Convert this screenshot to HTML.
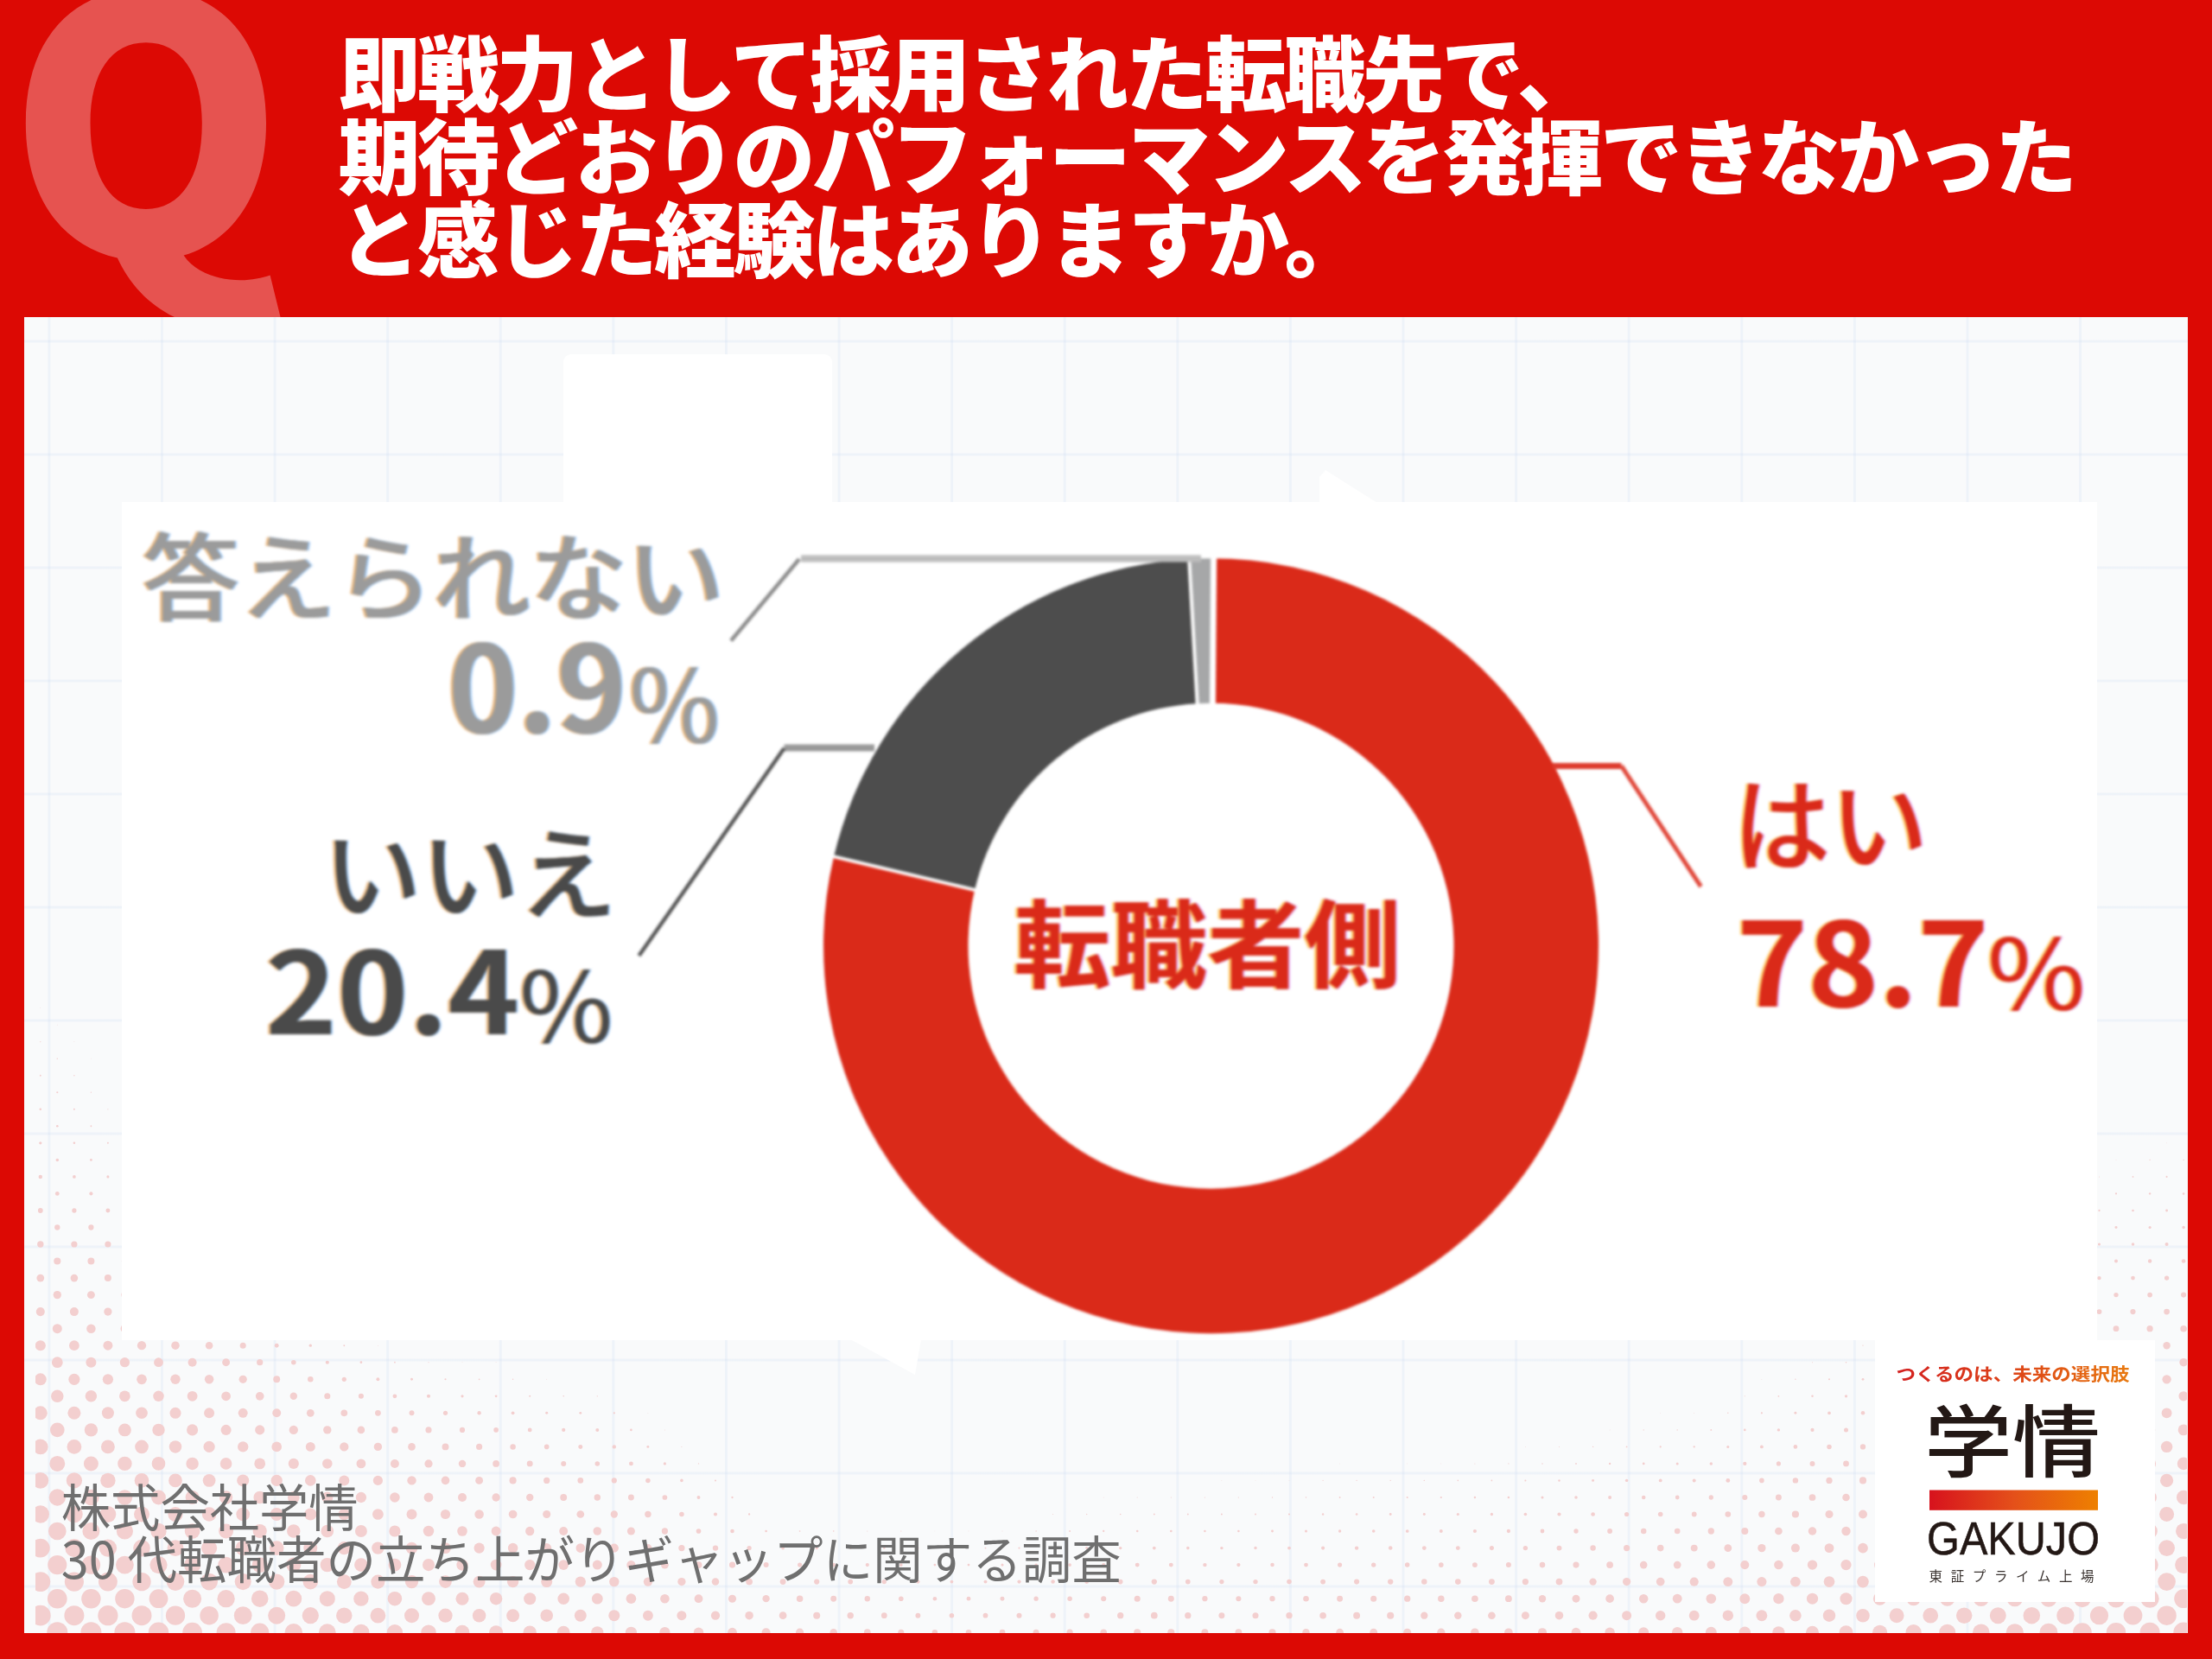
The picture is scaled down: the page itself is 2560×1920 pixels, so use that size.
<!DOCTYPE html>
<html lang="ja">
<head>
<meta charset="utf-8">
<style>
html,body{margin:0;padding:0;}
body{width:2560px;height:1920px;overflow:hidden;position:relative;background:#dc0904;font-family:"Liberation Sans","Noto Sans CJK JP",sans-serif;}
.abs{position:absolute;}
#q{left:0;top:0;width:2560px;height:367px;overflow:hidden;}
#q span{position:absolute;left:8.6px;top:-85.5px;font-family:"Noto Sans CJK JP",sans-serif;font-weight:900;font-size:408px;line-height:1;color:#e65350;}
#title{left:391.5px;top:33px;color:#fff;font-family:"Noto Sans CJK JP",sans-serif;font-weight:900;font-size:95px;line-height:96px;letter-spacing:-3.6px;white-space:nowrap;}
#panel{left:28px;top:367px;width:2504px;height:1523px;background-color:#f9fafb;
  background-image:linear-gradient(90deg,rgba(205,220,242,.24) 3px,transparent 3px),linear-gradient(180deg,rgba(205,220,242,.24) 3px,transparent 3px);
  background-size:130.6px 131px;background-position:27.4px 26.5px;}
#dots{left:28px;top:367px;}
#tab{left:652px;top:410px;width:311px;height:180px;background:#fff;border-radius:9px 9px 0 0;}
#chart{left:141px;top:581px;width:2286px;height:970px;background:#fff;}
#tails{left:0;top:0;}
#chartsvg{left:0;top:0;}
#chartsvg text{font-family:"Noto Sans CJK JP",sans-serif;}
.fg{filter:drop-shadow(-2.8px 0 rgba(232,165,90,.75)) drop-shadow(2.8px 0 rgba(90,165,245,.6));}
.fr{filter:drop-shadow(-2.8px 0 rgba(255,185,50,.75)) drop-shadow(2.8px 0 rgba(205,110,255,.5));}

#logo{left:2170px;top:1551px;width:324px;height:303px;background:#fff;}





</style>
</head>
<body>
<div id="q" class="abs"><span>Q</span></div>
<div id="title" class="abs">即戦力として採用された転職先で、<br>期待どおりのパフォーマンスを発揮できなかった<br>と感じた経験はありますか。</div>
<div id="panel" class="abs"></div>
<svg id="dots" class="abs" width="2503" height="1523" viewBox="0 0 2503 1523"><defs><clipPath id="dc"><rect x="13" y="0" width="2490" height="1523"/></clipPath></defs><g fill="#f3cfcf" clip-path="url(#dc)"><circle cx="18.8" cy="799.6" r="0.36"/><circle cx="38.3" cy="819.1" r="0.45"/><circle cx="18.8" cy="838.7" r="0.59"/><circle cx="57.9" cy="838.7" r="0.42"/><circle cx="38.3" cy="858.2" r="0.71"/><circle cx="77.4" cy="858.2" r="0.35"/><circle cx="18.8" cy="877.7" r="0.93"/><circle cx="57.9" cy="877.7" r="0.72"/><circle cx="38.3" cy="897.2" r="1.07"/><circle cx="77.4" cy="897.2" r="0.64"/><circle cx="18.8" cy="916.8" r="1.26"/><circle cx="57.9" cy="916.8" r="0.99"/><circle cx="96.9" cy="916.8" r="0.58"/><circle cx="38.3" cy="936.3" r="1.29"/><circle cx="77.4" cy="936.3" r="0.93"/><circle cx="18.8" cy="955.8" r="1.60"/><circle cx="57.9" cy="955.8" r="1.29"/><circle cx="96.9" cy="955.8" r="0.97"/><circle cx="2479.6" cy="955.8" r="0.40"/><circle cx="38.3" cy="975.4" r="1.75"/><circle cx="77.4" cy="975.4" r="1.38"/><circle cx="2421.0" cy="975.4" r="0.43"/><circle cx="2460.1" cy="975.4" r="0.68"/><circle cx="2499.1" cy="975.4" r="0.69"/><circle cx="18.8" cy="994.9" r="2.24"/><circle cx="57.9" cy="994.9" r="1.87"/><circle cx="96.9" cy="994.9" r="1.53"/><circle cx="2401.5" cy="994.9" r="0.52"/><circle cx="2440.5" cy="994.9" r="0.90"/><circle cx="2479.6" cy="994.9" r="1.05"/><circle cx="38.3" cy="1014.4" r="2.39"/><circle cx="77.4" cy="1014.4" r="2.07"/><circle cx="2421.0" cy="1014.4" r="1.09"/><circle cx="2460.1" cy="1014.4" r="1.19"/><circle cx="2499.1" cy="1014.4" r="1.26"/><circle cx="18.8" cy="1034.0" r="2.88"/><circle cx="57.9" cy="1034.0" r="2.63"/><circle cx="96.9" cy="1034.0" r="2.44"/><circle cx="2401.5" cy="1034.0" r="1.13"/><circle cx="2440.5" cy="1034.0" r="1.32"/><circle cx="2479.6" cy="1034.0" r="1.45"/><circle cx="38.3" cy="1053.5" r="3.16"/><circle cx="77.4" cy="1053.5" r="3.13"/><circle cx="2421.0" cy="1053.5" r="1.49"/><circle cx="2460.1" cy="1053.5" r="1.56"/><circle cx="2499.1" cy="1053.5" r="1.71"/><circle cx="18.8" cy="1073.0" r="3.70"/><circle cx="57.9" cy="1073.0" r="3.61"/><circle cx="96.9" cy="1073.0" r="3.56"/><circle cx="2401.5" cy="1073.0" r="1.55"/><circle cx="2440.5" cy="1073.0" r="1.74"/><circle cx="2479.6" cy="1073.0" r="2.01"/><circle cx="38.3" cy="1092.5" r="4.05"/><circle cx="77.4" cy="1092.5" r="3.98"/><circle cx="116.4" cy="1092.5" r="3.53"/><circle cx="2421.0" cy="1092.5" r="1.98"/><circle cx="2460.1" cy="1092.5" r="2.19"/><circle cx="2499.1" cy="1092.5" r="2.36"/><circle cx="18.8" cy="1112.1" r="4.40"/><circle cx="57.9" cy="1112.1" r="4.31"/><circle cx="96.9" cy="1112.1" r="4.02"/><circle cx="2401.5" cy="1112.1" r="2.19"/><circle cx="2440.5" cy="1112.1" r="2.37"/><circle cx="2479.6" cy="1112.1" r="2.68"/><circle cx="38.3" cy="1131.6" r="4.65"/><circle cx="77.4" cy="1131.6" r="4.47"/><circle cx="116.4" cy="1131.6" r="3.99"/><circle cx="2421.0" cy="1131.6" r="2.65"/><circle cx="2460.1" cy="1131.6" r="2.85"/><circle cx="2499.1" cy="1131.6" r="3.03"/><circle cx="18.8" cy="1151.1" r="5.03"/><circle cx="57.9" cy="1151.1" r="4.99"/><circle cx="96.9" cy="1151.1" r="4.62"/><circle cx="2401.5" cy="1151.1" r="2.88"/><circle cx="2440.5" cy="1151.1" r="3.10"/><circle cx="2479.6" cy="1151.1" r="3.35"/><circle cx="38.3" cy="1170.7" r="5.51"/><circle cx="77.4" cy="1170.7" r="5.26"/><circle cx="116.4" cy="1170.7" r="4.87"/><circle cx="2421.0" cy="1170.7" r="3.42"/><circle cx="2460.1" cy="1170.7" r="3.64"/><circle cx="2499.1" cy="1170.7" r="3.82"/><circle cx="18.8" cy="1190.2" r="6.07"/><circle cx="57.9" cy="1190.2" r="5.87"/><circle cx="96.9" cy="1190.2" r="5.47"/><circle cx="136.0" cy="1190.2" r="5.15"/><circle cx="175.0" cy="1190.2" r="4.75"/><circle cx="214.1" cy="1190.2" r="4.29"/><circle cx="253.2" cy="1190.2" r="3.52"/><circle cx="292.2" cy="1190.2" r="2.43"/><circle cx="331.3" cy="1190.2" r="1.67"/><circle cx="370.3" cy="1190.2" r="0.93"/><circle cx="409.4" cy="1190.2" r="0.43"/><circle cx="2128.0" cy="1190.2" r="0.63"/><circle cx="2479.6" cy="1190.2" r="4.23"/><circle cx="38.3" cy="1209.7" r="6.41"/><circle cx="77.4" cy="1209.7" r="6.03"/><circle cx="116.4" cy="1209.7" r="5.63"/><circle cx="155.5" cy="1209.7" r="5.40"/><circle cx="194.6" cy="1209.7" r="5.04"/><circle cx="233.6" cy="1209.7" r="4.45"/><circle cx="272.7" cy="1209.7" r="3.60"/><circle cx="311.8" cy="1209.7" r="2.79"/><circle cx="350.8" cy="1209.7" r="2.06"/><circle cx="389.9" cy="1209.7" r="1.38"/><circle cx="428.9" cy="1209.7" r="0.86"/><circle cx="468.0" cy="1209.7" r="0.57"/><circle cx="507.0" cy="1209.7" r="0.36"/><circle cx="546.1" cy="1209.7" r="0.40"/><circle cx="2069.5" cy="1209.7" r="0.50"/><circle cx="2108.5" cy="1209.7" r="0.82"/><circle cx="2499.1" cy="1209.7" r="4.78"/><circle cx="18.8" cy="1229.3" r="6.96"/><circle cx="57.9" cy="1229.3" r="6.58"/><circle cx="96.9" cy="1229.3" r="6.13"/><circle cx="136.0" cy="1229.3" r="5.84"/><circle cx="175.0" cy="1229.3" r="5.70"/><circle cx="214.1" cy="1229.3" r="5.25"/><circle cx="253.2" cy="1229.3" r="4.63"/><circle cx="292.2" cy="1229.3" r="3.95"/><circle cx="331.3" cy="1229.3" r="3.26"/><circle cx="370.3" cy="1229.3" r="2.59"/><circle cx="409.4" cy="1229.3" r="1.97"/><circle cx="448.5" cy="1229.3" r="1.46"/><circle cx="487.5" cy="1229.3" r="1.07"/><circle cx="526.6" cy="1229.3" r="0.85"/><circle cx="565.6" cy="1229.3" r="0.68"/><circle cx="604.7" cy="1229.3" r="0.45"/><circle cx="2010.9" cy="1229.3" r="0.38"/><circle cx="2049.9" cy="1229.3" r="0.68"/><circle cx="2089.0" cy="1229.3" r="1.03"/><circle cx="2128.0" cy="1229.3" r="1.40"/><circle cx="2479.6" cy="1229.3" r="5.17"/><circle cx="38.3" cy="1248.8" r="7.26"/><circle cx="77.4" cy="1248.8" r="6.74"/><circle cx="116.4" cy="1248.8" r="6.36"/><circle cx="155.5" cy="1248.8" r="6.22"/><circle cx="194.6" cy="1248.8" r="5.91"/><circle cx="233.6" cy="1248.8" r="5.38"/><circle cx="272.7" cy="1248.8" r="4.84"/><circle cx="311.8" cy="1248.8" r="4.20"/><circle cx="350.8" cy="1248.8" r="3.54"/><circle cx="389.9" cy="1248.8" r="3.02"/><circle cx="428.9" cy="1248.8" r="2.42"/><circle cx="468.0" cy="1248.8" r="2.06"/><circle cx="507.0" cy="1248.8" r="1.58"/><circle cx="546.1" cy="1248.8" r="1.40"/><circle cx="585.2" cy="1248.8" r="1.00"/><circle cx="624.2" cy="1248.8" r="0.79"/><circle cx="663.3" cy="1248.8" r="0.67"/><circle cx="1991.3" cy="1248.8" r="0.55"/><circle cx="2030.4" cy="1248.8" r="0.88"/><circle cx="2069.5" cy="1248.8" r="1.24"/><circle cx="2108.5" cy="1248.8" r="1.63"/><circle cx="2499.1" cy="1248.8" r="5.64"/><circle cx="18.8" cy="1268.3" r="7.97"/><circle cx="57.9" cy="1268.3" r="7.51"/><circle cx="96.9" cy="1268.3" r="6.99"/><circle cx="136.0" cy="1268.3" r="6.82"/><circle cx="175.0" cy="1268.3" r="6.50"/><circle cx="214.1" cy="1268.3" r="5.96"/><circle cx="253.2" cy="1268.3" r="5.47"/><circle cx="292.2" cy="1268.3" r="4.95"/><circle cx="331.3" cy="1268.3" r="4.37"/><circle cx="370.3" cy="1268.3" r="3.85"/><circle cx="409.4" cy="1268.3" r="3.39"/><circle cx="448.5" cy="1268.3" r="2.95"/><circle cx="487.5" cy="1268.3" r="2.59"/><circle cx="526.6" cy="1268.3" r="2.19"/><circle cx="565.6" cy="1268.3" r="1.91"/><circle cx="604.7" cy="1268.3" r="1.48"/><circle cx="643.8" cy="1268.3" r="1.42"/><circle cx="682.8" cy="1268.3" r="1.16"/><circle cx="721.9" cy="1268.3" r="0.41"/><circle cx="1893.7" cy="1268.3" r="0.36"/><circle cx="1932.7" cy="1268.3" r="0.43"/><circle cx="1971.8" cy="1268.3" r="0.73"/><circle cx="2010.9" cy="1268.3" r="1.08"/><circle cx="2049.9" cy="1268.3" r="1.46"/><circle cx="2089.0" cy="1268.3" r="1.86"/><circle cx="2128.0" cy="1268.3" r="2.26"/><circle cx="2479.6" cy="1268.3" r="5.92"/><circle cx="38.3" cy="1287.9" r="8.31"/><circle cx="77.4" cy="1287.9" r="7.66"/><circle cx="116.4" cy="1287.9" r="7.43"/><circle cx="155.5" cy="1287.9" r="7.19"/><circle cx="194.6" cy="1287.9" r="6.56"/><circle cx="233.6" cy="1287.9" r="6.03"/><circle cx="272.7" cy="1287.9" r="5.58"/><circle cx="311.8" cy="1287.9" r="5.15"/><circle cx="350.8" cy="1287.9" r="4.69"/><circle cx="389.9" cy="1287.9" r="4.31"/><circle cx="428.9" cy="1287.9" r="3.84"/><circle cx="468.0" cy="1287.9" r="3.54"/><circle cx="507.0" cy="1287.9" r="3.10"/><circle cx="546.1" cy="1287.9" r="2.82"/><circle cx="585.2" cy="1287.9" r="2.40"/><circle cx="624.2" cy="1287.9" r="2.09"/><circle cx="663.3" cy="1287.9" r="1.98"/><circle cx="702.4" cy="1287.9" r="1.34"/><circle cx="741.4" cy="1287.9" r="0.49"/><circle cx="1835.1" cy="1287.9" r="0.45"/><circle cx="1874.2" cy="1287.9" r="0.64"/><circle cx="1913.2" cy="1287.9" r="0.72"/><circle cx="1952.3" cy="1287.9" r="0.93"/><circle cx="1991.3" cy="1287.9" r="1.30"/><circle cx="2030.4" cy="1287.9" r="1.69"/><circle cx="2069.5" cy="1287.9" r="2.09"/><circle cx="2108.5" cy="1287.9" r="2.50"/><circle cx="2460.1" cy="1287.9" r="6.12"/><circle cx="2499.1" cy="1287.9" r="6.41"/><circle cx="18.8" cy="1307.4" r="8.82"/><circle cx="57.9" cy="1307.4" r="8.37"/><circle cx="96.9" cy="1307.4" r="7.93"/><circle cx="136.0" cy="1307.4" r="7.81"/><circle cx="175.0" cy="1307.4" r="7.23"/><circle cx="214.1" cy="1307.4" r="6.62"/><circle cx="253.2" cy="1307.4" r="6.18"/><circle cx="292.2" cy="1307.4" r="5.80"/><circle cx="331.3" cy="1307.4" r="5.47"/><circle cx="370.3" cy="1307.4" r="5.12"/><circle cx="409.4" cy="1307.4" r="4.70"/><circle cx="448.5" cy="1307.4" r="4.31"/><circle cx="487.5" cy="1307.4" r="3.94"/><circle cx="526.6" cy="1307.4" r="3.57"/><circle cx="565.6" cy="1307.4" r="3.25"/><circle cx="604.7" cy="1307.4" r="2.80"/><circle cx="643.8" cy="1307.4" r="2.49"/><circle cx="682.8" cy="1307.4" r="2.20"/><circle cx="721.9" cy="1307.4" r="1.46"/><circle cx="760.9" cy="1307.4" r="0.52"/><circle cx="1737.4" cy="1307.4" r="0.44"/><circle cx="1776.5" cy="1307.4" r="0.52"/><circle cx="1815.6" cy="1307.4" r="0.69"/><circle cx="1854.6" cy="1307.4" r="0.89"/><circle cx="1893.7" cy="1307.4" r="1.05"/><circle cx="1932.7" cy="1307.4" r="1.14"/><circle cx="1971.8" cy="1307.4" r="1.52"/><circle cx="2010.9" cy="1307.4" r="1.92"/><circle cx="2049.9" cy="1307.4" r="2.33"/><circle cx="2089.0" cy="1307.4" r="2.74"/><circle cx="2128.0" cy="1307.4" r="3.15"/><circle cx="2479.6" cy="1307.4" r="6.72"/><circle cx="38.3" cy="1326.9" r="8.98"/><circle cx="77.4" cy="1326.9" r="8.49"/><circle cx="116.4" cy="1326.9" r="8.22"/><circle cx="155.5" cy="1326.9" r="7.84"/><circle cx="194.6" cy="1326.9" r="7.23"/><circle cx="233.6" cy="1326.9" r="6.79"/><circle cx="272.7" cy="1326.9" r="6.40"/><circle cx="311.8" cy="1326.9" r="6.07"/><circle cx="350.8" cy="1326.9" r="5.77"/><circle cx="389.9" cy="1326.9" r="5.41"/><circle cx="428.9" cy="1326.9" r="4.98"/><circle cx="468.0" cy="1326.9" r="4.61"/><circle cx="507.0" cy="1326.9" r="4.22"/><circle cx="546.1" cy="1326.9" r="3.88"/><circle cx="585.2" cy="1326.9" r="3.46"/><circle cx="624.2" cy="1326.9" r="3.02"/><circle cx="663.3" cy="1326.9" r="2.77"/><circle cx="702.4" cy="1326.9" r="2.45"/><circle cx="741.4" cy="1326.9" r="1.65"/><circle cx="780.5" cy="1326.9" r="0.69"/><circle cx="1522.6" cy="1326.9" r="0.36"/><circle cx="1600.7" cy="1326.9" r="0.35"/><circle cx="1639.8" cy="1326.9" r="0.41"/><circle cx="1678.9" cy="1326.9" r="0.51"/><circle cx="1717.9" cy="1326.9" r="0.61"/><circle cx="1757.0" cy="1326.9" r="0.77"/><circle cx="1796.0" cy="1326.9" r="0.95"/><circle cx="1835.1" cy="1326.9" r="1.17"/><circle cx="1874.2" cy="1326.9" r="1.41"/><circle cx="1913.2" cy="1326.9" r="1.51"/><circle cx="1952.3" cy="1326.9" r="1.75"/><circle cx="1991.3" cy="1326.9" r="2.15"/><circle cx="2030.4" cy="1326.9" r="2.56"/><circle cx="2069.5" cy="1326.9" r="2.98"/><circle cx="2108.5" cy="1326.9" r="3.39"/><circle cx="2460.1" cy="1326.9" r="6.99"/><circle cx="2499.1" cy="1326.9" r="7.28"/><circle cx="18.8" cy="1346.4" r="9.45"/><circle cx="57.9" cy="1346.4" r="9.14"/><circle cx="96.9" cy="1346.4" r="8.69"/><circle cx="136.0" cy="1346.4" r="8.32"/><circle cx="175.0" cy="1346.4" r="7.83"/><circle cx="214.1" cy="1346.4" r="7.40"/><circle cx="253.2" cy="1346.4" r="7.01"/><circle cx="292.2" cy="1346.4" r="6.65"/><circle cx="331.3" cy="1346.4" r="6.32"/><circle cx="370.3" cy="1346.4" r="5.99"/><circle cx="409.4" cy="1346.4" r="5.58"/><circle cx="448.5" cy="1346.4" r="5.20"/><circle cx="487.5" cy="1346.4" r="4.81"/><circle cx="526.6" cy="1346.4" r="4.44"/><circle cx="565.6" cy="1346.4" r="4.05"/><circle cx="604.7" cy="1346.4" r="3.60"/><circle cx="643.8" cy="1346.4" r="3.32"/><circle cx="682.8" cy="1346.4" r="3.10"/><circle cx="721.9" cy="1346.4" r="2.76"/><circle cx="760.9" cy="1346.4" r="1.81"/><circle cx="800.0" cy="1346.4" r="1.02"/><circle cx="1385.9" cy="1346.4" r="0.38"/><circle cx="1425.0" cy="1346.4" r="0.40"/><circle cx="1464.0" cy="1346.4" r="0.44"/><circle cx="1503.1" cy="1346.4" r="0.56"/><circle cx="1542.1" cy="1346.4" r="0.61"/><circle cx="1581.2" cy="1346.4" r="0.64"/><circle cx="1620.3" cy="1346.4" r="0.70"/><circle cx="1659.3" cy="1346.4" r="0.78"/><circle cx="1698.4" cy="1346.4" r="0.87"/><circle cx="1737.4" cy="1346.4" r="1.02"/><circle cx="1776.5" cy="1346.4" r="1.23"/><circle cx="1815.6" cy="1346.4" r="1.46"/><circle cx="1854.6" cy="1346.4" r="1.71"/><circle cx="1893.7" cy="1346.4" r="1.89"/><circle cx="1932.7" cy="1346.4" r="1.99"/><circle cx="1971.8" cy="1346.4" r="2.39"/><circle cx="2010.9" cy="1346.4" r="2.80"/><circle cx="2049.9" cy="1346.4" r="3.22"/><circle cx="2089.0" cy="1346.4" r="3.63"/><circle cx="2128.0" cy="1346.4" r="4.05"/><circle cx="2479.6" cy="1346.4" r="7.61"/><circle cx="38.3" cy="1366.0" r="9.68"/><circle cx="77.4" cy="1366.0" r="9.29"/><circle cx="116.4" cy="1366.0" r="8.83"/><circle cx="155.5" cy="1366.0" r="8.41"/><circle cx="194.6" cy="1366.0" r="8.00"/><circle cx="233.6" cy="1366.0" r="7.63"/><circle cx="272.7" cy="1366.0" r="7.25"/><circle cx="311.8" cy="1366.0" r="6.88"/><circle cx="350.8" cy="1366.0" r="6.53"/><circle cx="389.9" cy="1366.0" r="6.16"/><circle cx="428.9" cy="1366.0" r="5.77"/><circle cx="468.0" cy="1366.0" r="5.40"/><circle cx="507.0" cy="1366.0" r="5.02"/><circle cx="546.1" cy="1366.0" r="4.64"/><circle cx="585.2" cy="1366.0" r="4.21"/><circle cx="624.2" cy="1366.0" r="3.92"/><circle cx="663.3" cy="1366.0" r="3.70"/><circle cx="702.4" cy="1366.0" r="3.47"/><circle cx="741.4" cy="1366.0" r="2.86"/><circle cx="780.5" cy="1366.0" r="1.96"/><circle cx="819.5" cy="1366.0" r="1.16"/><circle cx="1249.2" cy="1366.0" r="0.41"/><circle cx="1288.2" cy="1366.0" r="0.50"/><circle cx="1327.3" cy="1366.0" r="0.56"/><circle cx="1366.4" cy="1366.0" r="0.61"/><circle cx="1405.4" cy="1366.0" r="0.62"/><circle cx="1444.5" cy="1366.0" r="0.68"/><circle cx="1483.5" cy="1366.0" r="0.78"/><circle cx="1522.6" cy="1366.0" r="0.89"/><circle cx="1561.7" cy="1366.0" r="0.97"/><circle cx="1600.7" cy="1366.0" r="1.04"/><circle cx="1639.8" cy="1366.0" r="1.12"/><circle cx="1678.9" cy="1366.0" r="1.20"/><circle cx="1717.9" cy="1366.0" r="1.29"/><circle cx="1757.0" cy="1366.0" r="1.52"/><circle cx="1796.0" cy="1366.0" r="1.77"/><circle cx="1835.1" cy="1366.0" r="2.02"/><circle cx="1874.2" cy="1366.0" r="2.28"/><circle cx="1913.2" cy="1366.0" r="2.38"/><circle cx="1952.3" cy="1366.0" r="2.64"/><circle cx="1991.3" cy="1366.0" r="3.05"/><circle cx="2030.4" cy="1366.0" r="3.46"/><circle cx="2069.5" cy="1366.0" r="3.87"/><circle cx="2108.5" cy="1366.0" r="4.29"/><circle cx="2460.1" cy="1366.0" r="7.88"/><circle cx="2499.1" cy="1366.0" r="8.17"/><circle cx="18.8" cy="1385.5" r="10.17"/><circle cx="57.9" cy="1385.5" r="9.84"/><circle cx="96.9" cy="1385.5" r="9.42"/><circle cx="136.0" cy="1385.5" r="9.00"/><circle cx="175.0" cy="1385.5" r="8.61"/><circle cx="214.1" cy="1385.5" r="8.23"/><circle cx="253.2" cy="1385.5" r="7.86"/><circle cx="292.2" cy="1385.5" r="7.49"/><circle cx="331.3" cy="1385.5" r="7.12"/><circle cx="370.3" cy="1385.5" r="6.75"/><circle cx="409.4" cy="1385.5" r="6.37"/><circle cx="448.5" cy="1385.5" r="5.99"/><circle cx="487.5" cy="1385.5" r="5.61"/><circle cx="526.6" cy="1385.5" r="5.24"/><circle cx="565.6" cy="1385.5" r="4.85"/><circle cx="604.7" cy="1385.5" r="4.52"/><circle cx="643.8" cy="1385.5" r="4.37"/><circle cx="682.8" cy="1385.5" r="4.15"/><circle cx="721.9" cy="1385.5" r="3.71"/><circle cx="760.9" cy="1385.5" r="2.77"/><circle cx="800.0" cy="1385.5" r="2.05"/><circle cx="839.1" cy="1385.5" r="1.16"/><circle cx="1190.6" cy="1385.5" r="0.53"/><circle cx="1229.7" cy="1385.5" r="0.69"/><circle cx="1268.7" cy="1385.5" r="0.80"/><circle cx="1307.8" cy="1385.5" r="0.88"/><circle cx="1346.8" cy="1385.5" r="0.91"/><circle cx="1385.9" cy="1385.5" r="0.92"/><circle cx="1425.0" cy="1385.5" r="0.97"/><circle cx="1464.0" cy="1385.5" r="1.07"/><circle cx="1503.1" cy="1385.5" r="1.20"/><circle cx="1542.1" cy="1385.5" r="1.32"/><circle cx="1581.2" cy="1385.5" r="1.40"/><circle cx="1620.3" cy="1385.5" r="1.49"/><circle cx="1659.3" cy="1385.5" r="1.57"/><circle cx="1698.4" cy="1385.5" r="1.65"/><circle cx="1737.4" cy="1385.5" r="1.83"/><circle cx="1776.5" cy="1385.5" r="2.08"/><circle cx="1815.6" cy="1385.5" r="2.33"/><circle cx="1854.6" cy="1385.5" r="2.61"/><circle cx="1893.7" cy="1385.5" r="2.79"/><circle cx="1932.7" cy="1385.5" r="2.90"/><circle cx="1971.8" cy="1385.5" r="3.32"/><circle cx="2010.9" cy="1385.5" r="3.71"/><circle cx="2049.9" cy="1385.5" r="4.11"/><circle cx="2089.0" cy="1385.5" r="4.53"/><circle cx="2128.0" cy="1385.5" r="4.95"/><circle cx="2479.6" cy="1385.5" r="8.51"/><circle cx="38.3" cy="1405.0" r="10.37"/><circle cx="77.4" cy="1405.0" r="10.00"/><circle cx="116.4" cy="1405.0" r="9.60"/><circle cx="155.5" cy="1405.0" r="9.22"/><circle cx="194.6" cy="1405.0" r="8.84"/><circle cx="233.6" cy="1405.0" r="8.47"/><circle cx="272.7" cy="1405.0" r="8.09"/><circle cx="311.8" cy="1405.0" r="7.72"/><circle cx="350.8" cy="1405.0" r="7.34"/><circle cx="389.9" cy="1405.0" r="6.97"/><circle cx="428.9" cy="1405.0" r="6.59"/><circle cx="468.0" cy="1405.0" r="6.22"/><circle cx="507.0" cy="1405.0" r="5.84"/><circle cx="546.1" cy="1405.0" r="5.48"/><circle cx="585.2" cy="1405.0" r="5.14"/><circle cx="624.2" cy="1405.0" r="4.94"/><circle cx="663.3" cy="1405.0" r="4.83"/><circle cx="702.4" cy="1405.0" r="4.51"/><circle cx="741.4" cy="1405.0" r="3.63"/><circle cx="780.5" cy="1405.0" r="2.81"/><circle cx="819.5" cy="1405.0" r="2.27"/><circle cx="858.6" cy="1405.0" r="1.34"/><circle cx="897.6" cy="1405.0" r="0.84"/><circle cx="936.7" cy="1405.0" r="0.81"/><circle cx="975.8" cy="1405.0" r="0.50"/><circle cx="1014.8" cy="1405.0" r="0.61"/><circle cx="1053.9" cy="1405.0" r="0.37"/><circle cx="1093.0" cy="1405.0" r="0.41"/><circle cx="1132.0" cy="1405.0" r="0.49"/><circle cx="1171.1" cy="1405.0" r="0.75"/><circle cx="1210.1" cy="1405.0" r="0.99"/><circle cx="1249.2" cy="1405.0" r="1.14"/><circle cx="1288.2" cy="1405.0" r="1.29"/><circle cx="1327.3" cy="1405.0" r="1.32"/><circle cx="1366.4" cy="1405.0" r="1.29"/><circle cx="1405.4" cy="1405.0" r="1.29"/><circle cx="1444.5" cy="1405.0" r="1.41"/><circle cx="1483.5" cy="1405.0" r="1.54"/><circle cx="1522.6" cy="1405.0" r="1.67"/><circle cx="1561.7" cy="1405.0" r="1.78"/><circle cx="1600.7" cy="1405.0" r="1.87"/><circle cx="1639.8" cy="1405.0" r="1.96"/><circle cx="1678.9" cy="1405.0" r="2.04"/><circle cx="1717.9" cy="1405.0" r="2.13"/><circle cx="1757.0" cy="1405.0" r="2.39"/><circle cx="1796.0" cy="1405.0" r="2.65"/><circle cx="1835.1" cy="1405.0" r="2.94"/><circle cx="1874.2" cy="1405.0" r="3.23"/><circle cx="1913.2" cy="1405.0" r="3.32"/><circle cx="1952.3" cy="1405.0" r="3.65"/><circle cx="1991.3" cy="1405.0" r="4.01"/><circle cx="2030.4" cy="1405.0" r="4.36"/><circle cx="2069.5" cy="1405.0" r="4.77"/><circle cx="2108.5" cy="1405.0" r="5.19"/><circle cx="2147.6" cy="1405.0" r="5.61"/><circle cx="2460.1" cy="1405.0" r="8.78"/><circle cx="2499.1" cy="1405.0" r="9.07"/><circle cx="18.8" cy="1424.6" r="10.92"/><circle cx="57.9" cy="1424.6" r="10.55"/><circle cx="96.9" cy="1424.6" r="10.19"/><circle cx="136.0" cy="1424.6" r="9.82"/><circle cx="175.0" cy="1424.6" r="9.45"/><circle cx="214.1" cy="1424.6" r="9.08"/><circle cx="253.2" cy="1424.6" r="8.70"/><circle cx="292.2" cy="1424.6" r="8.33"/><circle cx="331.3" cy="1424.6" r="7.95"/><circle cx="370.3" cy="1424.6" r="7.58"/><circle cx="409.4" cy="1424.6" r="7.20"/><circle cx="448.5" cy="1424.6" r="6.83"/><circle cx="487.5" cy="1424.6" r="6.45"/><circle cx="526.6" cy="1424.6" r="6.08"/><circle cx="565.6" cy="1424.6" r="5.76"/><circle cx="604.7" cy="1424.6" r="5.51"/><circle cx="643.8" cy="1424.6" r="5.29"/><circle cx="682.8" cy="1424.6" r="5.10"/><circle cx="721.9" cy="1424.6" r="4.50"/><circle cx="760.9" cy="1424.6" r="3.63"/><circle cx="800.0" cy="1424.6" r="3.18"/><circle cx="839.1" cy="1424.6" r="2.60"/><circle cx="878.1" cy="1424.6" r="1.87"/><circle cx="917.2" cy="1424.6" r="1.65"/><circle cx="956.2" cy="1424.6" r="1.39"/><circle cx="995.3" cy="1424.6" r="1.23"/><circle cx="1034.4" cy="1424.6" r="1.06"/><circle cx="1073.4" cy="1424.6" r="0.82"/><circle cx="1112.5" cy="1424.6" r="0.94"/><circle cx="1151.5" cy="1424.6" r="1.10"/><circle cx="1190.6" cy="1424.6" r="1.32"/><circle cx="1229.7" cy="1424.6" r="1.49"/><circle cx="1268.7" cy="1424.6" r="1.71"/><circle cx="1307.8" cy="1424.6" r="1.87"/><circle cx="1346.8" cy="1424.6" r="1.78"/><circle cx="1385.9" cy="1424.6" r="1.70"/><circle cx="1425.0" cy="1424.6" r="1.76"/><circle cx="1464.0" cy="1424.6" r="1.90"/><circle cx="1503.1" cy="1424.6" r="2.04"/><circle cx="1542.1" cy="1424.6" r="2.18"/><circle cx="1581.2" cy="1424.6" r="2.26"/><circle cx="1620.3" cy="1424.6" r="2.35"/><circle cx="1659.3" cy="1424.6" r="2.44"/><circle cx="1698.4" cy="1424.6" r="2.53"/><circle cx="1737.4" cy="1424.6" r="2.70"/><circle cx="1776.5" cy="1424.6" r="2.96"/><circle cx="1815.6" cy="1424.6" r="3.24"/><circle cx="1854.6" cy="1424.6" r="3.60"/><circle cx="1893.7" cy="1424.6" r="3.79"/><circle cx="1932.7" cy="1424.6" r="3.96"/><circle cx="1971.8" cy="1424.6" r="4.40"/><circle cx="2010.9" cy="1424.6" r="4.65"/><circle cx="2049.9" cy="1424.6" r="5.01"/><circle cx="2089.0" cy="1424.6" r="5.43"/><circle cx="2128.0" cy="1424.6" r="5.85"/><circle cx="2479.6" cy="1424.6" r="9.41"/><circle cx="38.3" cy="1444.1" r="11.03"/><circle cx="77.4" cy="1444.1" r="10.72"/><circle cx="116.4" cy="1444.1" r="10.42"/><circle cx="155.5" cy="1444.1" r="10.06"/><circle cx="194.6" cy="1444.1" r="9.68"/><circle cx="233.6" cy="1444.1" r="9.31"/><circle cx="272.7" cy="1444.1" r="8.93"/><circle cx="311.8" cy="1444.1" r="8.56"/><circle cx="350.8" cy="1444.1" r="8.18"/><circle cx="389.9" cy="1444.1" r="7.81"/><circle cx="428.9" cy="1444.1" r="7.43"/><circle cx="468.0" cy="1444.1" r="7.06"/><circle cx="507.0" cy="1444.1" r="6.68"/><circle cx="546.1" cy="1444.1" r="6.35"/><circle cx="585.2" cy="1444.1" r="6.14"/><circle cx="624.2" cy="1444.1" r="5.83"/><circle cx="663.3" cy="1444.1" r="5.52"/><circle cx="702.4" cy="1444.1" r="5.13"/><circle cx="741.4" cy="1444.1" r="4.45"/><circle cx="780.5" cy="1444.1" r="3.93"/><circle cx="819.5" cy="1444.1" r="3.58"/><circle cx="858.6" cy="1444.1" r="3.00"/><circle cx="897.6" cy="1444.1" r="2.56"/><circle cx="936.7" cy="1444.1" r="2.33"/><circle cx="975.8" cy="1444.1" r="2.11"/><circle cx="1014.8" cy="1444.1" r="1.85"/><circle cx="1053.9" cy="1444.1" r="1.37"/><circle cx="1093.0" cy="1444.1" r="1.40"/><circle cx="1132.0" cy="1444.1" r="1.54"/><circle cx="1171.1" cy="1444.1" r="1.69"/><circle cx="1210.1" cy="1444.1" r="1.85"/><circle cx="1249.2" cy="1444.1" r="2.08"/><circle cx="1288.2" cy="1444.1" r="2.46"/><circle cx="1327.3" cy="1444.1" r="2.45"/><circle cx="1366.4" cy="1444.1" r="2.20"/><circle cx="1405.4" cy="1444.1" r="2.13"/><circle cx="1444.5" cy="1444.1" r="2.27"/><circle cx="1483.5" cy="1444.1" r="2.41"/><circle cx="1522.6" cy="1444.1" r="2.55"/><circle cx="1561.7" cy="1444.1" r="2.66"/><circle cx="1600.7" cy="1444.1" r="2.75"/><circle cx="1639.8" cy="1444.1" r="2.84"/><circle cx="1678.9" cy="1444.1" r="2.93"/><circle cx="1717.9" cy="1444.1" r="3.02"/><circle cx="1757.0" cy="1444.1" r="3.28"/><circle cx="1796.0" cy="1444.1" r="3.54"/><circle cx="1835.1" cy="1444.1" r="3.89"/><circle cx="1874.2" cy="1444.1" r="4.29"/><circle cx="1913.2" cy="1444.1" r="4.39"/><circle cx="1952.3" cy="1444.1" r="4.81"/><circle cx="1991.3" cy="1444.1" r="5.03"/><circle cx="2030.4" cy="1444.1" r="5.27"/><circle cx="2069.5" cy="1444.1" r="5.67"/><circle cx="2108.5" cy="1444.1" r="6.10"/><circle cx="2147.6" cy="1444.1" r="6.55"/><circle cx="2460.1" cy="1444.1" r="9.68"/><circle cx="2499.1" cy="1444.1" r="9.97"/><circle cx="18.8" cy="1463.6" r="11.43"/><circle cx="57.9" cy="1463.6" r="11.06"/><circle cx="96.9" cy="1463.6" r="10.92"/><circle cx="136.0" cy="1463.6" r="10.65"/><circle cx="175.0" cy="1463.6" r="10.29"/><circle cx="214.1" cy="1463.6" r="9.92"/><circle cx="253.2" cy="1463.6" r="9.54"/><circle cx="292.2" cy="1463.6" r="9.17"/><circle cx="331.3" cy="1463.6" r="8.79"/><circle cx="370.3" cy="1463.6" r="8.42"/><circle cx="409.4" cy="1463.6" r="8.04"/><circle cx="448.5" cy="1463.6" r="7.67"/><circle cx="487.5" cy="1463.6" r="7.29"/><circle cx="526.6" cy="1463.6" r="6.93"/><circle cx="565.6" cy="1463.6" r="6.69"/><circle cx="604.7" cy="1463.6" r="6.51"/><circle cx="643.8" cy="1463.6" r="6.10"/><circle cx="682.8" cy="1463.6" r="5.71"/><circle cx="721.9" cy="1463.6" r="5.15"/><circle cx="760.9" cy="1463.6" r="4.63"/><circle cx="800.0" cy="1463.6" r="4.26"/><circle cx="839.1" cy="1463.6" r="3.86"/><circle cx="878.1" cy="1463.6" r="3.42"/><circle cx="917.2" cy="1463.6" r="3.09"/><circle cx="956.2" cy="1463.6" r="2.86"/><circle cx="995.3" cy="1463.6" r="2.63"/><circle cx="1034.4" cy="1463.6" r="2.12"/><circle cx="1073.4" cy="1463.6" r="1.85"/><circle cx="1112.5" cy="1463.6" r="1.97"/><circle cx="1151.5" cy="1463.6" r="2.09"/><circle cx="1190.6" cy="1463.6" r="2.23"/><circle cx="1229.7" cy="1463.6" r="2.40"/><circle cx="1268.7" cy="1463.6" r="2.82"/><circle cx="1307.8" cy="1463.6" r="3.14"/><circle cx="1346.8" cy="1463.6" r="2.84"/><circle cx="1385.9" cy="1463.6" r="2.60"/><circle cx="1425.0" cy="1463.6" r="2.64"/><circle cx="1464.0" cy="1463.6" r="2.78"/><circle cx="1503.1" cy="1463.6" r="2.92"/><circle cx="1542.1" cy="1463.6" r="3.06"/><circle cx="1581.2" cy="1463.6" r="3.15"/><circle cx="1620.3" cy="1463.6" r="3.24"/><circle cx="1659.3" cy="1463.6" r="3.33"/><circle cx="1698.4" cy="1463.6" r="3.42"/><circle cx="1737.4" cy="1463.6" r="3.60"/><circle cx="1776.5" cy="1463.6" r="3.86"/><circle cx="1815.6" cy="1463.6" r="4.16"/><circle cx="1854.6" cy="1463.6" r="4.60"/><circle cx="1893.7" cy="1463.6" r="4.86"/><circle cx="1932.7" cy="1463.6" r="5.07"/><circle cx="1971.8" cy="1463.6" r="5.46"/><circle cx="2010.9" cy="1463.6" r="5.58"/><circle cx="2049.9" cy="1463.6" r="5.91"/><circle cx="2089.0" cy="1463.6" r="6.33"/><circle cx="2128.0" cy="1463.6" r="6.81"/><circle cx="2479.6" cy="1463.6" r="10.31"/><circle cx="38.3" cy="1483.2" r="11.31"/><circle cx="77.4" cy="1483.2" r="11.22"/><circle cx="116.4" cy="1483.2" r="11.19"/><circle cx="155.5" cy="1483.2" r="10.89"/><circle cx="194.6" cy="1483.2" r="10.52"/><circle cx="233.6" cy="1483.2" r="10.15"/><circle cx="272.7" cy="1483.2" r="9.77"/><circle cx="311.8" cy="1483.2" r="9.40"/><circle cx="350.8" cy="1483.2" r="9.02"/><circle cx="389.9" cy="1483.2" r="8.65"/><circle cx="428.9" cy="1483.2" r="8.27"/><circle cx="468.0" cy="1483.2" r="7.90"/><circle cx="507.0" cy="1483.2" r="7.52"/><circle cx="546.1" cy="1483.2" r="7.20"/><circle cx="585.2" cy="1483.2" r="7.03"/><circle cx="624.2" cy="1483.2" r="6.78"/><circle cx="663.3" cy="1483.2" r="6.38"/><circle cx="702.4" cy="1483.2" r="5.83"/><circle cx="741.4" cy="1483.2" r="5.29"/><circle cx="780.5" cy="1483.2" r="4.89"/><circle cx="819.5" cy="1483.2" r="4.52"/><circle cx="858.6" cy="1483.2" r="4.13"/><circle cx="897.6" cy="1483.2" r="3.75"/><circle cx="936.7" cy="1483.2" r="3.44"/><circle cx="975.8" cy="1483.2" r="3.21"/><circle cx="1014.8" cy="1483.2" r="2.81"/><circle cx="1053.9" cy="1483.2" r="2.30"/><circle cx="1093.0" cy="1483.2" r="2.38"/><circle cx="1132.0" cy="1483.2" r="2.49"/><circle cx="1171.1" cy="1483.2" r="2.61"/><circle cx="1210.1" cy="1483.2" r="2.75"/><circle cx="1249.2" cy="1483.2" r="3.03"/><circle cx="1288.2" cy="1483.2" r="3.52"/><circle cx="1327.3" cy="1483.2" r="3.47"/><circle cx="1366.4" cy="1483.2" r="3.12"/><circle cx="1405.4" cy="1483.2" r="3.02"/><circle cx="1444.5" cy="1483.2" r="3.16"/><circle cx="1483.5" cy="1483.2" r="3.30"/><circle cx="1522.6" cy="1483.2" r="3.44"/><circle cx="1561.7" cy="1483.2" r="3.56"/><circle cx="1600.7" cy="1483.2" r="3.64"/><circle cx="1639.8" cy="1483.2" r="3.73"/><circle cx="1678.9" cy="1483.2" r="3.82"/><circle cx="1717.9" cy="1483.2" r="3.92"/><circle cx="1757.0" cy="1483.2" r="4.18"/><circle cx="1796.0" cy="1483.2" r="4.45"/><circle cx="1835.1" cy="1483.2" r="4.84"/><circle cx="1874.2" cy="1483.2" r="5.26"/><circle cx="1913.2" cy="1483.2" r="5.42"/><circle cx="1952.3" cy="1483.2" r="5.78"/><circle cx="1991.3" cy="1483.2" r="5.93"/><circle cx="2030.4" cy="1483.2" r="6.17"/><circle cx="2069.5" cy="1483.2" r="6.57"/><circle cx="2108.5" cy="1483.2" r="7.03"/><circle cx="2147.6" cy="1483.2" r="7.64"/><circle cx="2186.6" cy="1483.2" r="8.17"/><circle cx="2225.7" cy="1483.2" r="8.57"/><circle cx="2264.8" cy="1483.2" r="8.88"/><circle cx="2303.8" cy="1483.2" r="9.13"/><circle cx="2342.9" cy="1483.2" r="9.52"/><circle cx="2381.9" cy="1483.2" r="9.94"/><circle cx="2421.0" cy="1483.2" r="10.28"/><circle cx="2460.1" cy="1483.2" r="10.58"/><circle cx="2499.1" cy="1483.2" r="10.87"/><circle cx="18.8" cy="1502.7" r="11.86"/><circle cx="57.9" cy="1502.7" r="11.50"/><circle cx="96.9" cy="1502.7" r="11.61"/><circle cx="136.0" cy="1502.7" r="11.48"/><circle cx="175.0" cy="1502.7" r="11.13"/><circle cx="214.1" cy="1502.7" r="10.75"/><circle cx="253.2" cy="1502.7" r="10.38"/><circle cx="292.2" cy="1502.7" r="10.00"/><circle cx="331.3" cy="1502.7" r="9.63"/><circle cx="370.3" cy="1502.7" r="9.26"/><circle cx="409.4" cy="1502.7" r="8.88"/><circle cx="448.5" cy="1502.7" r="8.51"/><circle cx="487.5" cy="1502.7" r="8.13"/><circle cx="526.6" cy="1502.7" r="7.76"/><circle cx="565.6" cy="1502.7" r="7.47"/><circle cx="604.7" cy="1502.7" r="7.28"/><circle cx="643.8" cy="1502.7" r="6.97"/><circle cx="682.8" cy="1502.7" r="6.51"/><circle cx="721.9" cy="1502.7" r="5.94"/><circle cx="760.9" cy="1502.7" r="5.51"/><circle cx="800.0" cy="1502.7" r="5.13"/><circle cx="839.1" cy="1502.7" r="4.75"/><circle cx="878.1" cy="1502.7" r="4.38"/><circle cx="917.2" cy="1502.7" r="4.01"/><circle cx="956.2" cy="1502.7" r="3.70"/><circle cx="995.3" cy="1502.7" r="3.37"/><circle cx="1034.4" cy="1502.7" r="2.93"/><circle cx="1073.4" cy="1502.7" r="2.77"/><circle cx="1112.5" cy="1502.7" r="2.88"/><circle cx="1151.5" cy="1502.7" r="3.00"/><circle cx="1190.6" cy="1502.7" r="3.12"/><circle cx="1229.7" cy="1502.7" r="3.29"/><circle cx="1268.7" cy="1502.7" r="3.63"/><circle cx="1307.8" cy="1502.7" r="3.85"/><circle cx="1346.8" cy="1502.7" r="3.64"/><circle cx="1385.9" cy="1502.7" r="3.48"/><circle cx="1425.0" cy="1502.7" r="3.53"/><circle cx="1464.0" cy="1502.7" r="3.67"/><circle cx="1503.1" cy="1502.7" r="3.82"/><circle cx="1542.1" cy="1502.7" r="3.96"/><circle cx="1581.2" cy="1502.7" r="4.05"/><circle cx="1620.3" cy="1502.7" r="4.14"/><circle cx="1659.3" cy="1502.7" r="4.23"/><circle cx="1698.4" cy="1502.7" r="4.32"/><circle cx="1737.4" cy="1502.7" r="4.49"/><circle cx="1776.5" cy="1502.7" r="4.76"/><circle cx="1815.6" cy="1502.7" r="5.09"/><circle cx="1854.6" cy="1502.7" r="5.50"/><circle cx="1893.7" cy="1502.7" r="5.73"/><circle cx="1932.7" cy="1502.7" r="5.91"/><circle cx="1971.8" cy="1502.7" r="6.24"/><circle cx="2010.9" cy="1502.7" r="6.44"/><circle cx="2049.9" cy="1502.7" r="6.81"/><circle cx="2089.0" cy="1502.7" r="7.24"/><circle cx="2128.0" cy="1502.7" r="7.80"/><circle cx="2167.1" cy="1502.7" r="8.45"/><circle cx="2206.2" cy="1502.7" r="8.90"/><circle cx="2245.2" cy="1502.7" r="9.26"/><circle cx="2284.3" cy="1502.7" r="9.46"/><circle cx="2323.3" cy="1502.7" r="9.77"/><circle cx="2362.4" cy="1502.7" r="10.18"/><circle cx="2401.5" cy="1502.7" r="10.60"/><circle cx="2440.5" cy="1502.7" r="10.85"/><circle cx="2479.6" cy="1502.7" r="11.20"/><circle cx="38.3" cy="1522.2" r="12.00"/><circle cx="77.4" cy="1522.2" r="12.00"/><circle cx="116.4" cy="1522.2" r="12.00"/><circle cx="155.5" cy="1522.2" r="11.73"/><circle cx="194.6" cy="1522.2" r="11.36"/><circle cx="233.6" cy="1522.2" r="10.99"/><circle cx="272.7" cy="1522.2" r="10.61"/><circle cx="311.8" cy="1522.2" r="10.24"/><circle cx="350.8" cy="1522.2" r="9.86"/><circle cx="389.9" cy="1522.2" r="9.49"/><circle cx="428.9" cy="1522.2" r="9.11"/><circle cx="468.0" cy="1522.2" r="8.74"/><circle cx="507.0" cy="1522.2" r="8.36"/><circle cx="546.1" cy="1522.2" r="8.00"/><circle cx="585.2" cy="1522.2" r="7.70"/><circle cx="624.2" cy="1522.2" r="7.42"/><circle cx="663.3" cy="1522.2" r="7.06"/><circle cx="702.4" cy="1522.2" r="6.57"/><circle cx="741.4" cy="1522.2" r="6.12"/><circle cx="780.5" cy="1522.2" r="5.74"/><circle cx="819.5" cy="1522.2" r="5.36"/><circle cx="858.6" cy="1522.2" r="4.99"/><circle cx="897.6" cy="1522.2" r="4.61"/><circle cx="936.7" cy="1522.2" r="4.25"/><circle cx="975.8" cy="1522.2" r="3.90"/><circle cx="1014.8" cy="1522.2" r="3.52"/><circle cx="1053.9" cy="1522.2" r="3.16"/><circle cx="1093.0" cy="1522.2" r="3.27"/><circle cx="1132.0" cy="1522.2" r="3.39"/><circle cx="1171.1" cy="1522.2" r="3.51"/><circle cx="1210.1" cy="1522.2" r="3.63"/><circle cx="1249.2" cy="1522.2" r="3.82"/><circle cx="1288.2" cy="1522.2" r="4.06"/><circle cx="1327.3" cy="1522.2" r="4.05"/><circle cx="1366.4" cy="1522.2" r="3.94"/><circle cx="1405.4" cy="1522.2" r="3.91"/><circle cx="1444.5" cy="1522.2" r="4.05"/><circle cx="1483.5" cy="1522.2" r="4.19"/><circle cx="1522.6" cy="1522.2" r="4.34"/><circle cx="1561.7" cy="1522.2" r="4.45"/><circle cx="1600.7" cy="1522.2" r="4.54"/><circle cx="1639.8" cy="1522.2" r="4.63"/><circle cx="1678.9" cy="1522.2" r="4.72"/><circle cx="1717.9" cy="1522.2" r="4.81"/><circle cx="1757.0" cy="1522.2" r="5.07"/><circle cx="1796.0" cy="1522.2" r="5.35"/><circle cx="1835.1" cy="1522.2" r="5.70"/><circle cx="1874.2" cy="1522.2" r="6.03"/><circle cx="1913.2" cy="1522.2" r="6.15"/><circle cx="1952.3" cy="1522.2" r="6.43"/><circle cx="1991.3" cy="1522.2" r="6.71"/><circle cx="2030.4" cy="1522.2" r="7.06"/><circle cx="2069.5" cy="1522.2" r="7.47"/><circle cx="2108.5" cy="1522.2" r="7.93"/><circle cx="2147.6" cy="1522.2" r="8.54"/><circle cx="2186.6" cy="1522.2" r="9.08"/><circle cx="2225.7" cy="1522.2" r="9.47"/><circle cx="2264.8" cy="1522.2" r="9.78"/><circle cx="2303.8" cy="1522.2" r="10.03"/><circle cx="2342.9" cy="1522.2" r="10.42"/><circle cx="2381.9" cy="1522.2" r="10.84"/><circle cx="2421.0" cy="1522.2" r="11.18"/><circle cx="2460.1" cy="1522.2" r="11.48"/><circle cx="2499.1" cy="1522.2" r="11.77"/></g></svg>
<div id="tab" class="abs"></div>
<div id="chart" class="abs"></div>
<svg id="tails" class="abs" width="2560" height="1920" viewBox="0 0 2560 1920"><path fill="#fff" d="M1527 582 L1527 552 L1534 544 L1594 582 Z"/><path fill="#fff" d="M984 1550 L1066 1550 L1059 1591 Z"/></svg>
<svg id="chartsvg" class="abs" width="2560" height="1920" viewBox="0 0 2560 1920">
<g style="filter:blur(1.4px)">
<path fill="#da2a19" d="M1401.50 646.20 A448.5 448.5 0 1 1 965.07 991.37 L1128.06 1029.96 A281.0 281.0 0 1 0 1401.50 813.70 Z"/><path fill="#4d4d4d" d="M965.07 991.37 A448.5 448.5 0 0 1 1376.15 646.92 L1385.62 814.15 A281.0 281.0 0 0 0 1128.06 1029.96 Z"/><path fill="#a6a7a8" d="M1376.15 646.92 A448.5 448.5 0 0 1 1401.50 646.20 L1401.50 813.70 A281.0 281.0 0 0 0 1385.62 814.15 Z"/><line x1="1403.45" y1="815.71" x2="1404.65" y2="644.21" stroke="#fff" stroke-width="7"/><line x1="1130.01" y1="1030.42" x2="963.12" y2="990.91" stroke="#fff" stroke-width="4"/><line x1="1385.73" y1="816.15" x2="1376.04" y2="644.92" stroke="#fff" stroke-width="4"/>
<polyline points="927,646.5 1390,646.5" fill="none" stroke="#bcbcbc" stroke-width="8"/>
<polyline points="846,741.5 925,647" fill="none" stroke="#8c8c8c" stroke-width="4.5"/>
<polyline points="907.5,865.5 1012,865.5" fill="none" stroke="#999" stroke-width="8"/>
<polyline points="739.5,1106 907.5,866" fill="none" stroke="#555" stroke-width="4.5"/>
<polyline points="1797,886.5 1876.5,886.5" fill="none" stroke="#dd3a2c" stroke-width="7"/>
<polyline points="1876.5,886.5 1968.5,1026" fill="none" stroke="#e0473a" stroke-width="5"/>
<g class="fg"><text x="164.9" y="709.6" font-size="110.2" font-weight="500" fill="#9b9b9b" textLength="673.2" lengthAdjust="spacingAndGlyphs">答えられない</text></g>
<g class="fg"><text x="518.4" y="848.4" font-size="139.2" font-weight="700" fill="#9b9b9b" textLength="207.2" lengthAdjust="spacingAndGlyphs">0.9</text></g>
<g class="fg"><text x="728.6" y="858.9" font-size="116.6" font-weight="400" fill="#9b9b9b" textLength="104.6" lengthAdjust="spacingAndGlyphs">%</text></g>
<g class="fg"><text x="374.6" y="1055.4" font-size="115.6" font-weight="500" fill="#4a4a4a" textLength="339.4" lengthAdjust="spacingAndGlyphs">いいえ</text></g>
<g class="fg"><text x="307.3" y="1196.9" font-size="131.7" font-weight="700" fill="#4a4a4a" textLength="294.0" lengthAdjust="spacingAndGlyphs">20.4</text></g>
<g class="fg"><text x="601.2" y="1207.0" font-size="114.0" font-weight="400" fill="#4a4a4a" textLength="108.4" lengthAdjust="spacingAndGlyphs">%</text></g>
<g class="fr"><text x="2005.7" y="998.6" font-size="118.5" font-weight="500" fill="#da2a19" textLength="225.5" lengthAdjust="spacingAndGlyphs">はい</text></g>
<g class="fr"><text x="2010.0" y="1165.1" font-size="134.7" font-weight="700" fill="#da2a19" textLength="291.7" lengthAdjust="spacingAndGlyphs">78.7</text></g>
<g class="fr"><text x="2300.0" y="1169.0" font-size="114.0" font-weight="400" fill="#da2a19" textLength="113.8" lengthAdjust="spacingAndGlyphs">%</text></g>
<g class="fr"><text x="1173.3" y="1134.9" font-size="111.3" font-weight="700" fill="#da2a19" textLength="448.3" lengthAdjust="spacingAndGlyphs">転職者側</text></g>

</g>
</svg>
<div id="logo" class="abs"></div>
<svg id="logosvg" class="abs" style="left:0;top:0" width="2560" height="1920" viewBox="0 0 2560 1920"><defs><linearGradient id="tg" gradientUnits="userSpaceOnUse" x1="2196" y1="0" x2="2464" y2="0"><stop offset="0" stop-color="#d3201f"/><stop offset="0.45" stop-color="#dc3f18"/><stop offset="1" stop-color="#e8790f"/></linearGradient><linearGradient id="bg2" gradientUnits="userSpaceOnUse" x1="2233" y1="0" x2="2428" y2="0"><stop offset="0" stop-color="#d7121d"/><stop offset="0.5" stop-color="#e4501a"/><stop offset="1" stop-color="#ee8000"/></linearGradient></defs><text x="70.8" y="1767.3" font-family="Noto Sans CJK JP" font-size="59.11" font-weight="400" fill="#6f6f6f" textLength="343.8" lengthAdjust="spacingAndGlyphs">株式会社学情</text>
<text x="70.8" y="1827.0" font-family="Noto Sans CJK JP" font-size="59.00" font-weight="400" fill="#6f6f6f" textLength="1226.9" lengthAdjust="spacingAndGlyphs">30 代転職者の立ち上がりギャップに関する調査</text>
<text x="2194.4" y="1598.2" font-family="Noto Sans CJK JP" font-size="20.40" font-weight="700" fill="url(#tg)" textLength="270.1" lengthAdjust="spacingAndGlyphs">つくるのは、未来の選択肢</text>
<text x="2226.9" y="1701.9" font-family="Noto Sans CJK JP" font-size="90.43" font-weight="500" fill="#231815" textLength="204.0" lengthAdjust="spacingAndGlyphs">学情</text>
<rect x="2233" y="1724.5" width="195" height="23.3" fill="url(#bg2)"/><text x="2230.1" y="1798.6" font-family="Liberation Sans" font-size="53.29" font-weight="400" fill="#231815" textLength="199.9" lengthAdjust="spacingAndGlyphs" stroke="#231815" stroke-width="0.6">GAKUJO</text>
<text x="2232.6" y="1829.6" font-family="Noto Sans CJK JP" font-size="15.5" font-weight="400" fill="#3a3330" letter-spacing="9.6">東証プライム上場</text></svg>
</body>
</html>
